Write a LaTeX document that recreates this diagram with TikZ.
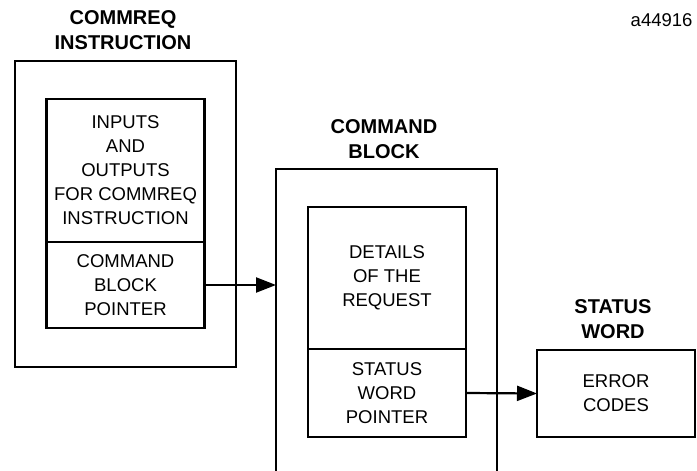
\documentclass[tikz,border=0pt]{standalone}
\usepackage{fontspec}
\setmainfont{Liberation Sans}
\usetikzlibrary{positioning,arrows.meta}
\tikzset{>={Triangle[length=20pt,width=15pt]}}
\tikzset{
  box/.style={draw, line width=2.2pt, inner sep=0pt, outer sep=0pt, align=center,
    minimum width=158pt, font=\fontsize{18.5}{24}\selectfont},
  title/.style={align=center, font=\fontsize{20}{25}\bfseries\selectfont},
  link/.style={line width=2.2pt, ->},
}

\begin{document}
\begin{tikzpicture}[x=1pt, y=-1pt]
    \useasboundingbox (0,0) rectangle (697,471);
    \node[anchor=east, font=\fontsize{18.5}{24}\selectfont] (figid) at (696,20) {a44916};
    % commreq instruction
    \node[title] (ttlinstr) at (123,30.5) {COMMREQ\\INSTRUCTION};
    \draw[line width=2.2pt] (15,61) rectangle (236,367);
    \node[box, minimum height=143pt] (inputs) at (125.5,170.5) {INPUTS\\AND\\OUTPUTS\\FOR COMMREQ\\INSTRUCTION};
    \node[box, minimum height=86pt, below=0pt of inputs] (cbptr) {COMMAND\\BLOCK\\POINTER};
    % command block
    \node[title] (ttlblock) at (384,139.5) {COMMAND\\BLOCK};
    \coordinate (blkNW) at (276,169);
    \draw[line width=2.2pt] (276,475) |- (497,169) -- (497,475);
    \node[box, minimum height=142pt] (details) at (387,278) {DETAILS\\OF THE\\REQUEST};
    \node[box, minimum height=88pt, below=0pt of details] (swptr) {STATUS\\WORD\\POINTER};
    % status word
    \node[title] (ttlstatus) at (613,319.5) {STATUS\\WORD};
    \node[box, minimum height=87pt] (errors) at (616,393.5) {ERROR\\CODES};
    \draw[link] (cbptr.east) -- (cbptr.east -| blkNW);
    \draw[link] (swptr.east) -- (errors.west);
\end{tikzpicture}
\end{document}
